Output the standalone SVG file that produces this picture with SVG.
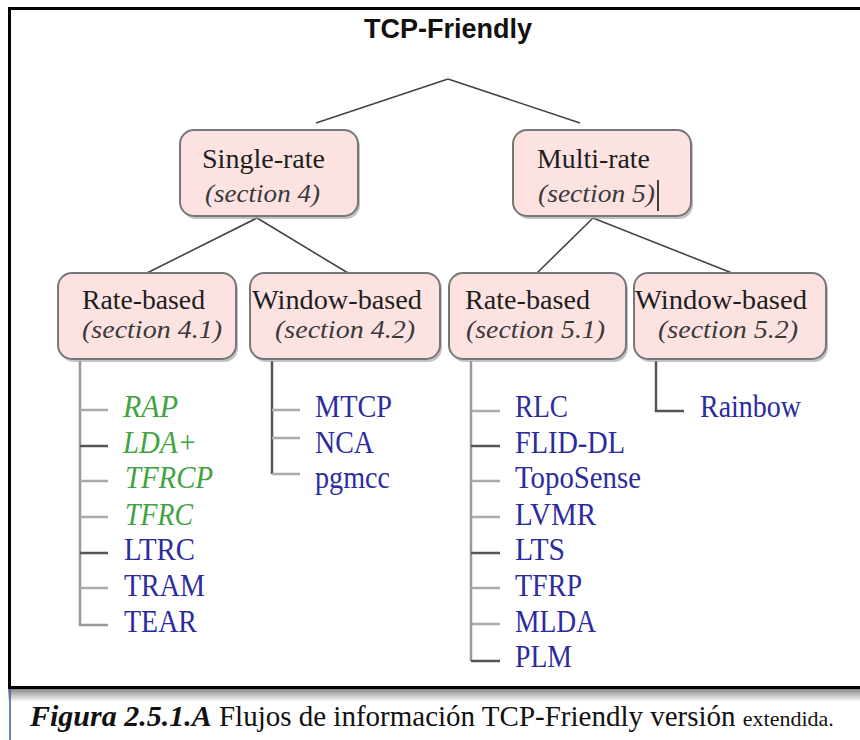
<svg xmlns="http://www.w3.org/2000/svg" width="860" height="740" viewBox="0 0 860 740">
<defs>
<linearGradient id="shadow" x1="0" y1="0" x2="0" y2="1">
<stop offset="0" stop-color="#8a8a8a"/>
<stop offset="1" stop-color="#ffffff"/>
</linearGradient>
</defs>
<style>
.box{fill:#fde2e2;stroke:#777;stroke-width:2}
.bsh{fill:#9a9a9a;opacity:0.6}
.serif{font-family:"Liberation Serif","Times New Roman",Times,"Nimbus Roman","FreeSerif","DejaVu Serif","Noto Serif",serif}
.lbl{font-size:28px;fill:#1e1e1e}
.sec{font-size:26px;font-style:italic;fill:#3a3a3a}
.edge{stroke:#444;stroke-width:1.6;fill:none}
.vl{stroke:#999;stroke-width:2.5;fill:none}
.vd{stroke:#555;stroke-width:2.5;fill:none}
.tl{stroke:#aaa;stroke-width:2.5}
.td{stroke:#555;stroke-width:2.5}
.it{font-size:28px}
.bl{fill:#2c2ca0}
.gr{fill:#3fa33f;font-style:italic}
</style>
<rect x="0" y="0" width="860" height="740" fill="#ffffff"/>
<g id="frame">
<rect x="8" y="689" width="852" height="13" fill="url(#shadow)"/>
<line x1="8" y1="8.5" x2="860" y2="8.5" stroke="#000" stroke-width="3"/>
<line x1="9.5" y1="7" x2="9.5" y2="689" stroke="#000" stroke-width="3"/>
<line x1="8" y1="687.5" x2="860" y2="687.5" stroke="#000" stroke-width="3"/>
<line x1="10" y1="689" x2="10" y2="740" stroke="#3a5a9a" stroke-width="1.5"/>
</g>
<g id="title">
<text x="448" y="38" text-anchor="middle" font-family="'Liberation Sans',Arial,sans-serif" font-weight="bold" font-size="27" fill="#111">TCP-Friendly</text>
</g>
<g id="connectors">
<line class="edge" x1="448" y1="79" x2="316" y2="123"/>
<line class="edge" x1="448" y1="79" x2="580" y2="123"/>
<line class="edge" x1="257" y1="218" x2="147" y2="273"/>
<line class="edge" x1="257" y1="218" x2="348" y2="273"/>
<line class="edge" x1="593" y1="218" x2="537" y2="273"/>
<line class="edge" x1="593" y1="218" x2="732" y2="273"/>
<path class="vl" d="M80,361 V625 H108"/>
<line class="tl" x1="80" y1="410" x2="108" y2="410"/>
<line class="td" x1="80" y1="446" x2="108" y2="446"/>
<line class="tl" x1="80" y1="481" x2="108" y2="481"/>
<line class="tl" x1="80" y1="517" x2="108" y2="517"/>
<line class="td" x1="80" y1="553" x2="108" y2="553"/>
<line class="tl" x1="80" y1="588" x2="108" y2="588"/>
<path class="vd" d="M272,361 V474"/>
<line class="tl" x1="272" y1="410" x2="300" y2="410"/>
<line class="tl" x1="272" y1="438" x2="300" y2="438"/>
<line class="tl" x1="272" y1="474" x2="300" y2="474"/>
<path class="vl" d="M471,361 V661"/>
<line class="tl" x1="471" y1="411" x2="500" y2="411"/>
<line class="td" x1="471" y1="446" x2="500" y2="446"/>
<line class="tl" x1="471" y1="481" x2="500" y2="481"/>
<line class="tl" x1="471" y1="517" x2="500" y2="517"/>
<line class="td" x1="471" y1="553" x2="500" y2="553"/>
<line class="tl" x1="471" y1="588" x2="500" y2="588"/>
<line class="tl" x1="471" y1="624" x2="500" y2="624"/>
<line class="td" x1="471" y1="661" x2="500" y2="661"/>
<path class="vd" d="M656,361 V411 H684"/>
</g>
<g id="single-rate">
<rect class="bsh" x="182" y="133" width="178" height="86" rx="14"/>
<rect class="box" x="180" y="130" width="178" height="86" rx="14"/>
<text class="serif lbl" x="202" y="168" textLength="123" lengthAdjust="spacingAndGlyphs">Single-rate</text>
<text class="serif sec" x="205" y="202" textLength="115" lengthAdjust="spacingAndGlyphs">(section 4)</text>
</g>
<g id="multi-rate">
<rect class="bsh" x="515" y="133" width="178" height="86" rx="14"/>
<rect class="box" x="513" y="130" width="178" height="86" rx="14"/>
<text class="serif lbl" x="537" y="168" textLength="113" lengthAdjust="spacingAndGlyphs">Multi-rate</text>
<text class="serif sec" x="538" y="202" textLength="117" lengthAdjust="spacingAndGlyphs">(section 5)</text>
<line x1="658" y1="180" x2="658" y2="211" stroke="#111" stroke-width="1.6"/>
</g>
<g id="rate-based-41">
<rect class="bsh" x="60" y="276" width="178" height="86" rx="14"/>
<rect class="box" x="58" y="273" width="178" height="86" rx="14"/>
<text class="serif lbl" x="82" y="309" textLength="123" lengthAdjust="spacingAndGlyphs">Rate-based</text>
<text class="serif sec" x="82" y="338" textLength="140" lengthAdjust="spacingAndGlyphs">(section 4.1)</text>
</g>
<g id="window-based-42">
<rect class="bsh" x="252" y="276" width="190" height="86" rx="14"/>
<rect class="box" x="250" y="273" width="190" height="86" rx="14"/>
<text class="serif lbl" x="252" y="309" textLength="170" lengthAdjust="spacingAndGlyphs">Window-based</text>
<text class="serif sec" x="275" y="338" textLength="140" lengthAdjust="spacingAndGlyphs">(section 4.2)</text>
</g>
<g id="rate-based-51">
<rect class="bsh" x="451" y="276" width="177" height="86" rx="14"/>
<rect class="box" x="449" y="273" width="177" height="86" rx="14"/>
<text class="serif lbl" x="465" y="309" textLength="125" lengthAdjust="spacingAndGlyphs">Rate-based</text>
<text class="serif sec" x="466" y="338" textLength="139" lengthAdjust="spacingAndGlyphs">(section 5.1)</text>
</g>
<g id="window-based-52">
<rect class="bsh" x="636" y="276" width="192" height="86" rx="14"/>
<rect class="box" x="634" y="273" width="192" height="86" rx="14"/>
<text class="serif lbl" x="635" y="309" textLength="172" lengthAdjust="spacingAndGlyphs">Window-based</text>
<text class="serif sec" x="658" y="338" textLength="140" lengthAdjust="spacingAndGlyphs">(section 5.2)</text>
</g>
<g id="list-41">
<text class="serif it gr" transform="translate(123,417) scale(1,1.15)" textLength="55" lengthAdjust="spacingAndGlyphs">RAP</text>
<text class="serif it gr" transform="translate(123,453) scale(1,1.15)" textLength="74" lengthAdjust="spacingAndGlyphs">LDA+</text>
<text class="serif it gr" transform="translate(125,488) scale(1,1.15)" textLength="88" lengthAdjust="spacingAndGlyphs">TFRCP</text>
<text class="serif it gr" transform="translate(125,525) scale(1,1.15)" textLength="68" lengthAdjust="spacingAndGlyphs">TFRC</text>
<text class="serif it bl" transform="translate(124,560) scale(1,1.15)" textLength="71" lengthAdjust="spacingAndGlyphs">LTRC</text>
<text class="serif it bl" transform="translate(124,596) scale(1,1.15)" textLength="81" lengthAdjust="spacingAndGlyphs">TRAM</text>
<text class="serif it bl" transform="translate(124,632) scale(1,1.15)" textLength="73" lengthAdjust="spacingAndGlyphs">TEAR</text>
</g>
<g id="list-42">
<text class="serif it bl" transform="translate(315,417) scale(1,1.15)" textLength="77" lengthAdjust="spacingAndGlyphs">MTCP</text>
<text class="serif it bl" transform="translate(315,453) scale(1,1.15)" textLength="59" lengthAdjust="spacingAndGlyphs">NCA</text>
<text class="serif it bl" transform="translate(315,488) scale(1,1.15)" textLength="75" lengthAdjust="spacingAndGlyphs">pgmcc</text>
</g>
<g id="list-51">
<text class="serif it bl" transform="translate(515,417) scale(1,1.15)" textLength="53" lengthAdjust="spacingAndGlyphs">RLC</text>
<text class="serif it bl" transform="translate(515,453) scale(1,1.15)" textLength="110" lengthAdjust="spacingAndGlyphs">FLID-DL</text>
<text class="serif it bl" transform="translate(515,488) scale(1,1.15)" textLength="126" lengthAdjust="spacingAndGlyphs">TopoSense</text>
<text class="serif it bl" transform="translate(515,525) scale(1,1.15)" textLength="81" lengthAdjust="spacingAndGlyphs">LVMR</text>
<text class="serif it bl" transform="translate(515,560) scale(1,1.15)" textLength="50" lengthAdjust="spacingAndGlyphs">LTS</text>
<text class="serif it bl" transform="translate(515,596) scale(1,1.15)" textLength="67" lengthAdjust="spacingAndGlyphs">TFRP</text>
<text class="serif it bl" transform="translate(515,632) scale(1,1.15)" textLength="81" lengthAdjust="spacingAndGlyphs">MLDA</text>
<text class="serif it bl" transform="translate(515,667) scale(1,1.15)" textLength="57" lengthAdjust="spacingAndGlyphs">PLM</text>
</g>
<g id="list-52">
<text class="serif it bl" transform="translate(700,417) scale(1,1.15)" textLength="101" lengthAdjust="spacingAndGlyphs">Rainbow</text>
</g>
<g id="caption">
<text class="serif" x="30" y="726" font-size="29" fill="#111"><tspan font-size="30" font-weight="bold" font-style="italic">Figura 2.5.1.A</tspan> Flujos de información TCP-Friendly versión <tspan font-size="22">extendida.</tspan></text>
</g>
</svg>
